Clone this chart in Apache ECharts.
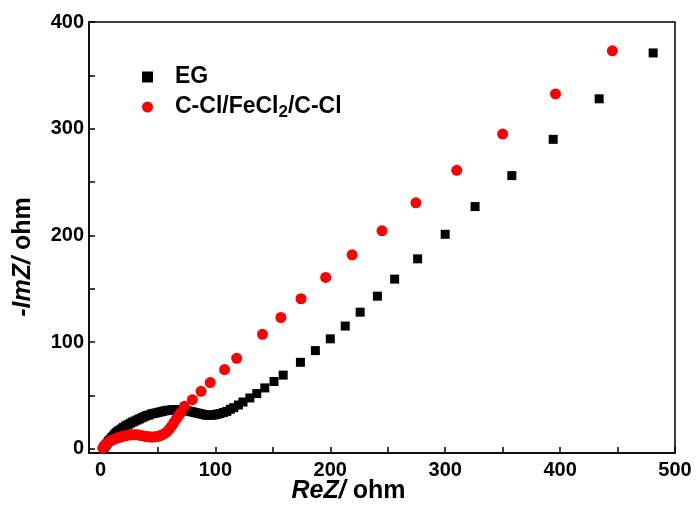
<!DOCTYPE html>
<html>
<head>
<meta charset="utf-8">
<script src="https://cdn.jsdelivr.net/npm/echarts@6/dist/echarts.min.js"></script>
<style>html,body{margin:0;padding:0;background:#fff}#c{width:697px;height:512px}</style>
</head>
<body>
<div id="c"></div>
<script>
// EG series (black squares)
var egRe = [3,4,5,6,7,8,9,10,11,12,13,14,15,16,18,20,22,24,26,28,30,32,34,36,38,40,42,44,46,48,50,52,54,56,58,60,62,64,66,68,70,72,74,76,78,80,82,84,86,88,90,92,94,96,98,100,102,104,107,110,113,116,120,124,130,136,143,151,159,174,187,200,213,226,241,256,276,300,326,358,394,434,481];
var egIm = [1,2.5,4,5.5,7,8,9,10.5,11.5,13,14,15,16,17,18.5,20,21.5,22.5,24,25,26,27,28,29,30,31,31.5,32.5,33,33.5,34,34.5,35,35.5,36,36,36.5,36.5,36.5,36.5,36.5,36,36,35.5,35,34.5,34,33.5,33,32.5,32,31.5,31.5,31.5,31.5,32,32.5,33,34,35,37,38.5,41,43.8,47.6,51.7,57,63,69,81,92,103,115,128,143,159,178,201,227,256,290,328,371];
// C-Cl/FeCl2/C-Cl series (red circles)
var clRe = [2,3,4,5,6,8,10,12,14,16,18,20,22,24,26,28,30,32,34,36,38,40,42,44,46,48,50,52,54,56,58,60,62,64,66,68,70,73,80,87.5,95.5,108,118.5,141,157,174.5,196,219,245,274.5,310,350,396,445.5];
var clIm = [0.5,2,3.5,4.5,5.5,7,8,9,9.8,10.5,11.2,11.8,12.3,12.7,13,13.2,13.2,13,12.7,12.2,11.8,11.4,11.2,11,11,11.2,11.6,12.3,13.2,14.3,16,18.5,21.5,24.8,28,31,34,39.8,46,53.8,62,74.2,84.7,107.2,123,140.6,160.6,181.8,204.3,230.5,261,295,332.6,373];
// ticks
var xLabels = [0,100,200,300,400,500];
var xTicks = [0,50,100,150,200,250,300,350,400,450,500];
var yLabels = [0,100,200,300,400];
var yTicks = [0,50,100,150,200,250,300,350,400];

function zip(a,b){return a.map(function(v,i){return [v,b[i]];});}

var FONT = 'Liberation Sans, Arial, sans-serif';
var chart = echarts.init(document.getElementById('c'), null, {renderer:'canvas'});
chart.setOption({
  animation: false,
  backgroundColor: '#fff',
  grid: {left: 89, right: 22, top: 22, bottom: 59, show: true, borderColor: '#000', borderWidth: 1.5, backgroundColor: 'transparent'},
  xAxis: {
    type: 'value', min: -10, max: 500,
    axisLine: {show: true, onZero: false, lineStyle: {color: '#000', width: 1.5}},
    axisTick: {show: true, inside: true, length: 6, customValues: xTicks, lineStyle: {color: '#000', width: 1.5}},
    axisLabel: {customValues: xLabels, color: '#000', fontSize: 20, fontWeight: 'bold', fontFamily: FONT, margin: 7},
    splitLine: {show: false}
  },
  yAxis: {
    type: 'value', min: -4, max: 400,
    axisLine: {show: true, onZero: false, lineStyle: {color: '#000', width: 1.5}},
    axisTick: {show: true, inside: true, length: 6, customValues: yTicks, lineStyle: {color: '#000', width: 1.5}},
    axisLabel: {customValues: yLabels, color: '#000', fontSize: 20, fontWeight: 'bold', fontFamily: FONT, margin: 5},
    splitLine: {show: false}
  },
  legend: {
    orient: 'vertical', left: 137, top: 60, itemGap: 6,
    itemWidth: 11, itemHeight: 11,
    data: [{name: 'EG', icon: 'rect', itemStyle: {opacity: 1}}, {name: 'C-Cl/FeCl2/C-Cl', icon: 'circle', itemStyle: {opacity: 1}}],
    formatter: function(n){ return n === 'EG' ? 'EG' : 'C-Cl/FeCl{s|2}/C-Cl'; },
    textStyle: {
      color: '#000', fontSize: 23, fontWeight: 'bold', fontFamily: FONT, padding: [0,0,0,17], lineHeight: 24,
      rich: {s: {fontSize: 17, fontWeight: 'bold', fontFamily: FONT, color: '#000', padding: [10,0,0,0]}}
    }
  },
  series: [
    {name: 'EG', type: 'scatter', symbol: 'rect', symbolSize: 9, itemStyle: {color: '#000', opacity: 1}, data: zip(egRe, egIm), z: 2},
    {name: 'C-Cl/FeCl2/C-Cl', type: 'scatter', symbol: 'circle', symbolSize: 11, itemStyle: {color: '#ff0000', opacity: 1}, data: zip(clRe, clIm), z: 3}
  ],
  graphic: [
    {type: 'text', left: 'center', x: 0, top: 479, style: {
      text: '{i|ReZ/}{n| ohm}', fill: '#000',
      rich: {i: {fontSize: 25, fontWeight: 'bold', fontStyle: 'italic', fontFamily: FONT, fill:'#000'},
             n: {fontSize: 25, fontWeight: 'bold', fontFamily: FONT, fill:'#000'}}
    }},
    {type: 'text', x: 23, y: 257, rotation: Math.PI/2, style: {
      text: '{i|-ImZ/}{n| ohm}', align: 'center', verticalAlign: 'middle', fill: '#000',
      rich: {i: {fontSize: 25, fontWeight: 'bold', fontStyle: 'italic', fontFamily: FONT, fill:'#000'},
             n: {fontSize: 25, fontWeight: 'bold', fontFamily: FONT, fill:'#000'}}
    }}
  ]
});
</script>
</body>
</html>
